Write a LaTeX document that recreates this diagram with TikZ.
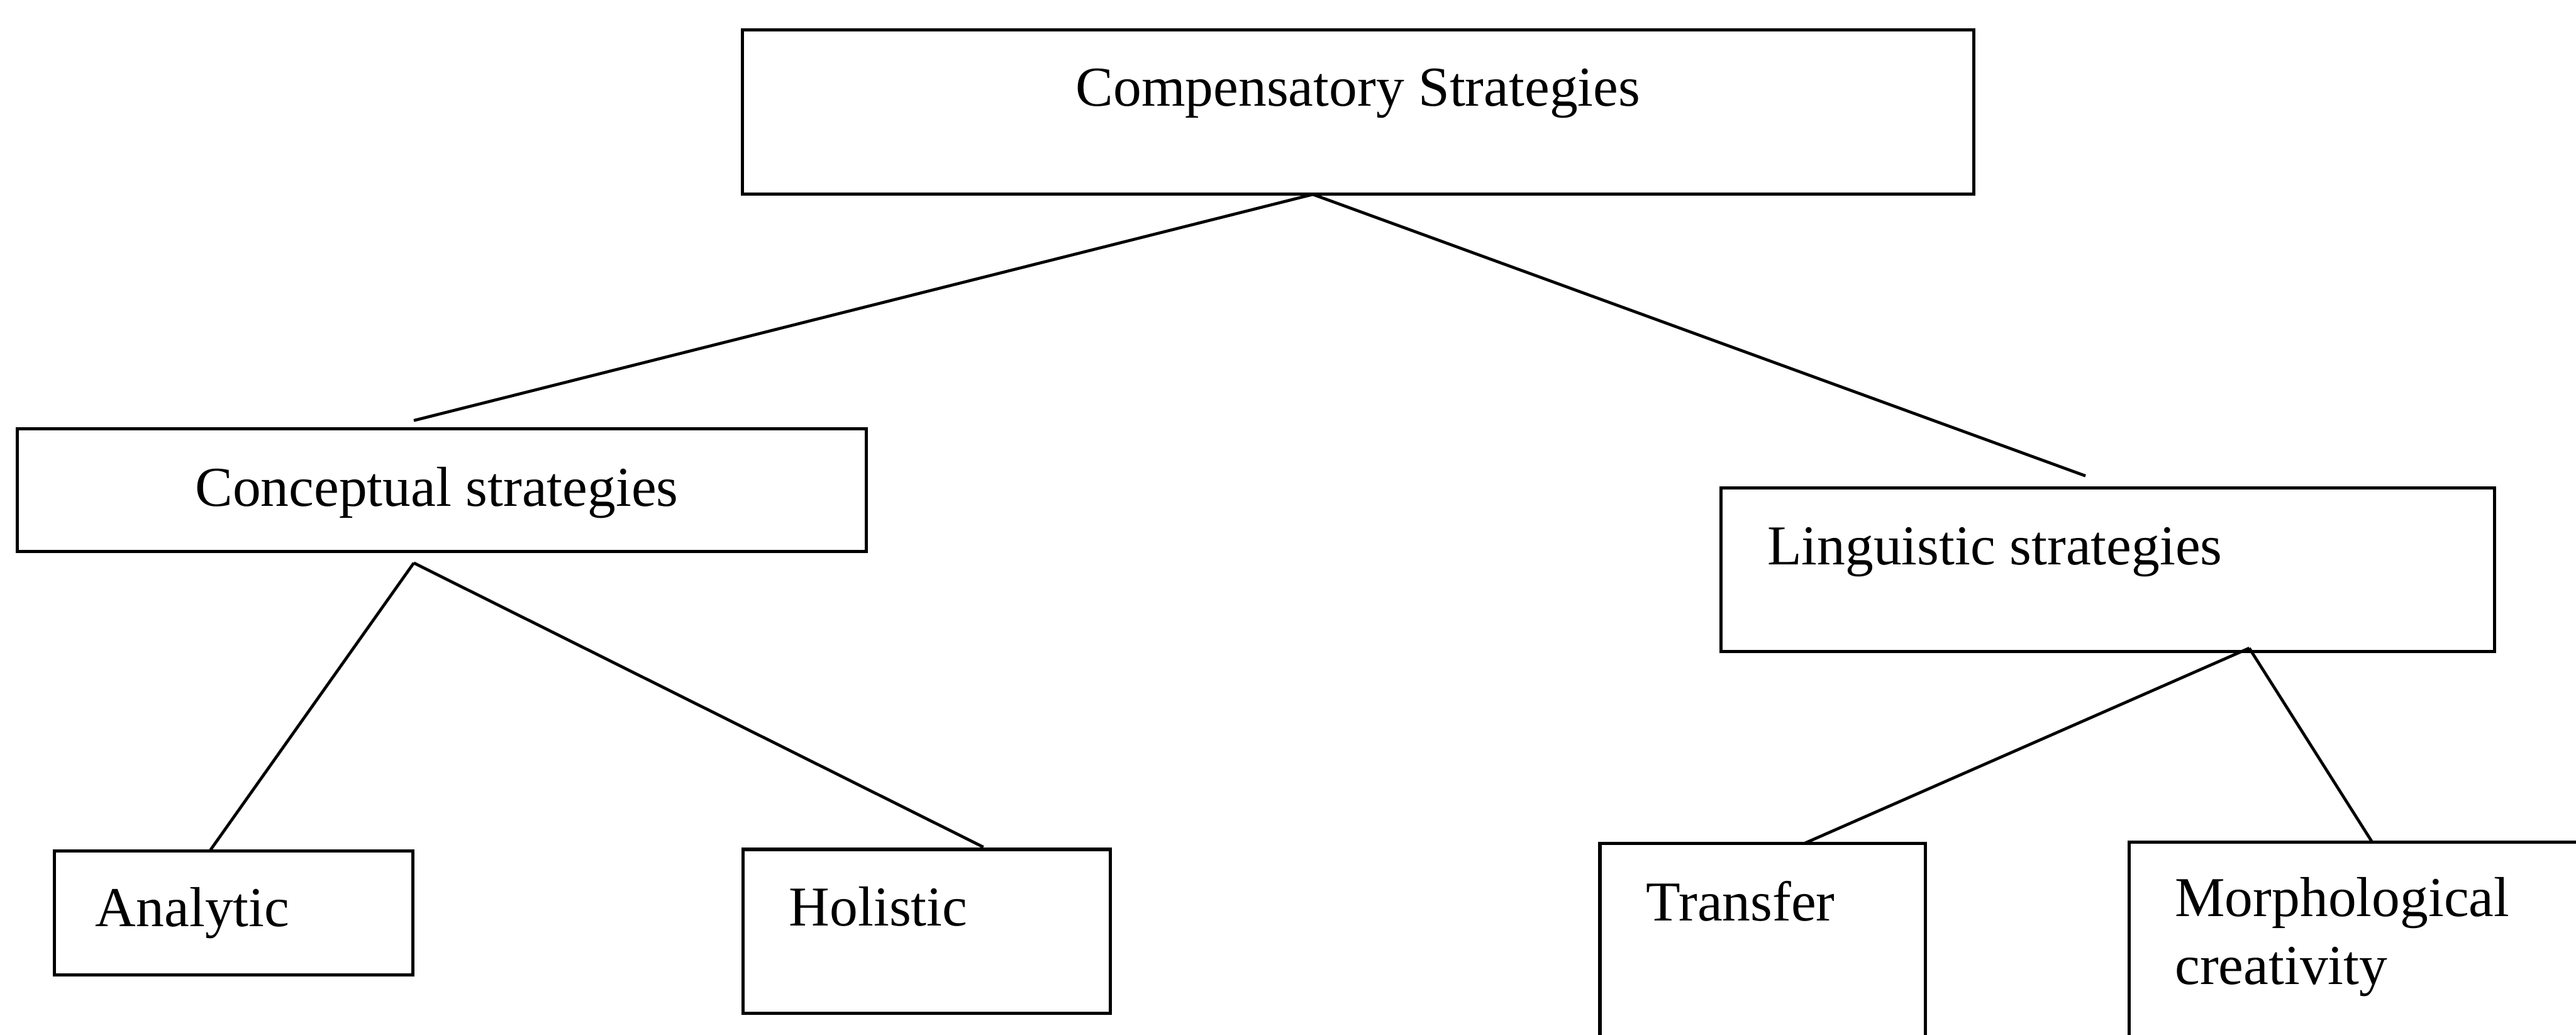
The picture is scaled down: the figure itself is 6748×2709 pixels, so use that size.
\documentclass[tikz,border=0pt]{standalone}
\usepackage{fontspec}
\setmainfont{Liberation Serif}
\usetikzlibrary{fit}
\begin{document}
\begin{tikzpicture}[x=0.005cm,y=-0.005cm,
  box/.style={draw, line width=1.2pt, inner sep=0pt, outer sep=0pt},
  lbl/.style={anchor=base west, inner sep=0pt, font=\fontsize{21}{25.4}\selectfont},
  link/.style={line width=1.1pt}]
% page frame
\clip (0,0) rectangle (6748,2709);
\fill[white] (0,0) rectangle (6748,2709);

% boxes
\node[box, fit={(1945,78) (5170,508)}] (comp) {};
\node[box, fit={(46,1122) (2270,1444)}] (concept) {};
\node[box, fit={(4508,1277) (6534,1706)}] (ling) {};
\node[box, fit={(143,2228) (1081,2552)}] (analytic) {};
\node[box, fit={(1947,2224) (2908,2653)}] (holistic) {};
\node[box, fit={(4191,2209) (5044,2800)}] (transfer) {};
\node[box, fit={(5577,2205) (6800,2800)}] (morph) {};

% labels
\node[lbl] (compT) at (2817,277) {Compensatory Strategies};
\node[lbl] (conceptT) at (510,1325) {Conceptual strategies};
\node[lbl] (lingT) at (4628,1478) {Linguistic strategies};
\node[lbl] (analyticT) at (249,2426) {Analytic};
\node[lbl] (holisticT) at (2066,2424) {Holistic};
\node[lbl] (transferT) at (4311,2411) {Transfer};
\node[lbl] (morphT) at (5696,2399) {Morphological};
\node[lbl] (morphT2) at (5696,2578) {creativity};

% connector ends
\coordinate (compJ) at (3439,509);
\coordinate (conceptN) at (1084,1101);
\coordinate (lingN) at (5463,1246);
\coordinate (conceptJ) at (1084,1474);
\coordinate (analyticN) at (551,2226);
\coordinate (holisticN) at (2576,2218);
\coordinate (lingJ) at (5892,1697);
\coordinate (transferN) at (4725,2209);
\coordinate (morphN) at (6214,2205);

% connectors
\draw[link] (compJ) -- (conceptN);
\draw[link] (compJ) -- (lingN);
\draw[link] (conceptJ) -- (analyticN);
\draw[link] (conceptJ) -- (holisticN);
\draw[link] (lingJ) -- (transferN);
\draw[link] (lingJ) -- (morphN);
\end{tikzpicture}
\end{document}
